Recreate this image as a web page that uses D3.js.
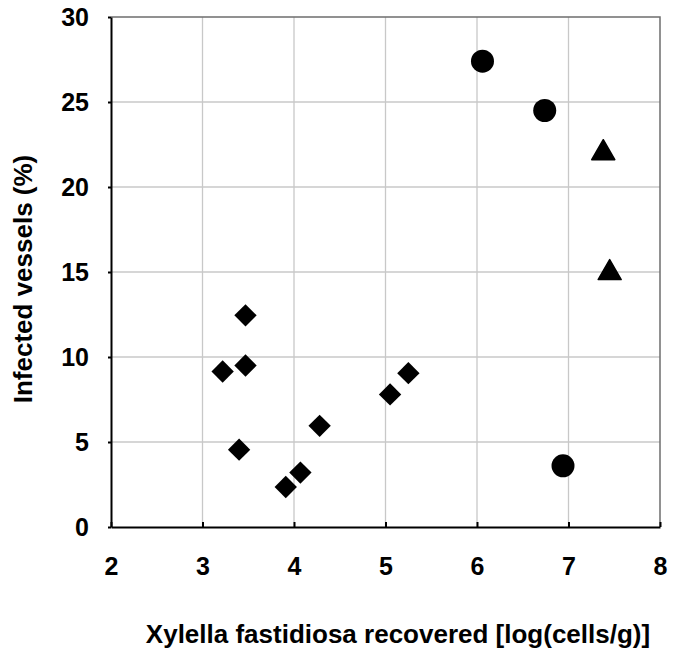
<!DOCTYPE html>
<html><head><meta charset="utf-8">
<script src="https://cdn.jsdelivr.net/npm/d3@7"></script>
<style>body{margin:0;background:#fff}svg{display:block}text{font-family:"Liberation Sans",Arial,sans-serif;font-weight:bold;fill:#000}</style>
</head><body><svg id="c" width="673" height="658"></svg>
<script>
const xTicks = [2,3,4,5,6,7,8];
const yTicks = [0,5,10,15,20,25,30];
const diamondX = [3.22,3.47,3.47,3.40,3.91,4.07,4.28,5.05,5.25];
const diamondY = [9.15,12.45,9.5,4.55,2.35,3.2,5.95,7.8,9.05];
const circleX = [6.06,6.74,6.94];
const circleY = [27.4,24.5,3.6];
const triangleX = [7.38,7.45];
const triangleY = [22.0,14.95];
const xTitle = "Xylella fastidiosa recovered [log(cells/g)]";
const yTitle = "Infected vessels (%)";

const svg = d3.select("#c");
const L=111, R=660, T=17, B=527;
const x = d3.scaleLinear().domain([2,8]).range([L,R]);
const y = d3.scaleLinear().domain([0,30]).range([B,T]);

// grid
svg.append("g").selectAll("line").data(xTicks.slice(1,-1)).join("line")
  .attr("x1",d=>x(d)).attr("x2",d=>x(d)).attr("y1",T).attr("y2",B)
  .attr("stroke","#c8c8c8").attr("stroke-width",1.3);
svg.append("g").selectAll("line").data(yTicks.slice(1,-1)).join("line")
  .attr("x1",L).attr("x2",R).attr("y1",d=>y(d)).attr("y2",d=>y(d))
  .attr("stroke","#c8c8c8").attr("stroke-width",1.3);
// top/right frame
svg.append("path").attr("d",`M${L},${T}H${R}V${B}`).attr("fill","none").attr("stroke","#6e6e6e").attr("stroke-width",1.5);

// axes
const xa = svg.append("g").attr("transform",`translate(0,${B})`)
  .call(d3.axisBottom(x).tickValues(xTicks).tickFormat(d3.format("d")).tickSize(-5).tickPadding(30).tickSizeOuter(0));
const ya = svg.append("g").attr("transform",`translate(${L},0)`)
  .call(d3.axisLeft(y).tickValues(yTicks).tickFormat(d3.format("d")).tickSize(3).tickPadding(19).tickSizeOuter(0));
[xa,ya].forEach(a=>{
  a.select(".domain").attr("stroke","#000").attr("stroke-width",2);
  a.selectAll(".tick line").attr("stroke","#000").attr("stroke-width",2);
  a.selectAll("text").attr("font-size",25).attr("font-family","Liberation Sans, Arial, sans-serif").attr("font-weight","bold").attr("fill","#000");
});

// markers
const g = svg.append("g");
g.selectAll(".dm").data(diamondX.map((v,i)=>[v,diamondY[i]])).join("path")
  .attr("d",d3.symbol(d3.symbolSquare,250)).attr("transform",d=>`translate(${x(d[0])},${y(d[1])}) rotate(45)`).attr("fill","#000");
g.selectAll(".ci").data(circleX.map((v,i)=>[v,circleY[i]])).join("circle")
  .attr("cx",d=>x(d[0])).attr("cy",d=>y(d[1])).attr("r",11.5).attr("fill","#000");
g.selectAll(".tr").data(triangleX.map((v,i)=>[v,triangleY[i]])).join("path")
  .attr("d",d3.symbol(d3.symbolTriangle,230)).attr("transform",d=>`translate(${x(d[0])},${y(d[1])})`).attr("fill","#000")
  .attr("stroke","#000").attr("stroke-width",1.5).attr("stroke-linejoin","round");

// titles
svg.append("text").attr("x",398).attr("y",643).attr("text-anchor","middle").attr("font-size",26).text(xTitle);
svg.append("text").attr("transform","translate(32,279) rotate(-90)").attr("text-anchor","middle").attr("font-size",26).text(yTitle);
</script></body></html>
